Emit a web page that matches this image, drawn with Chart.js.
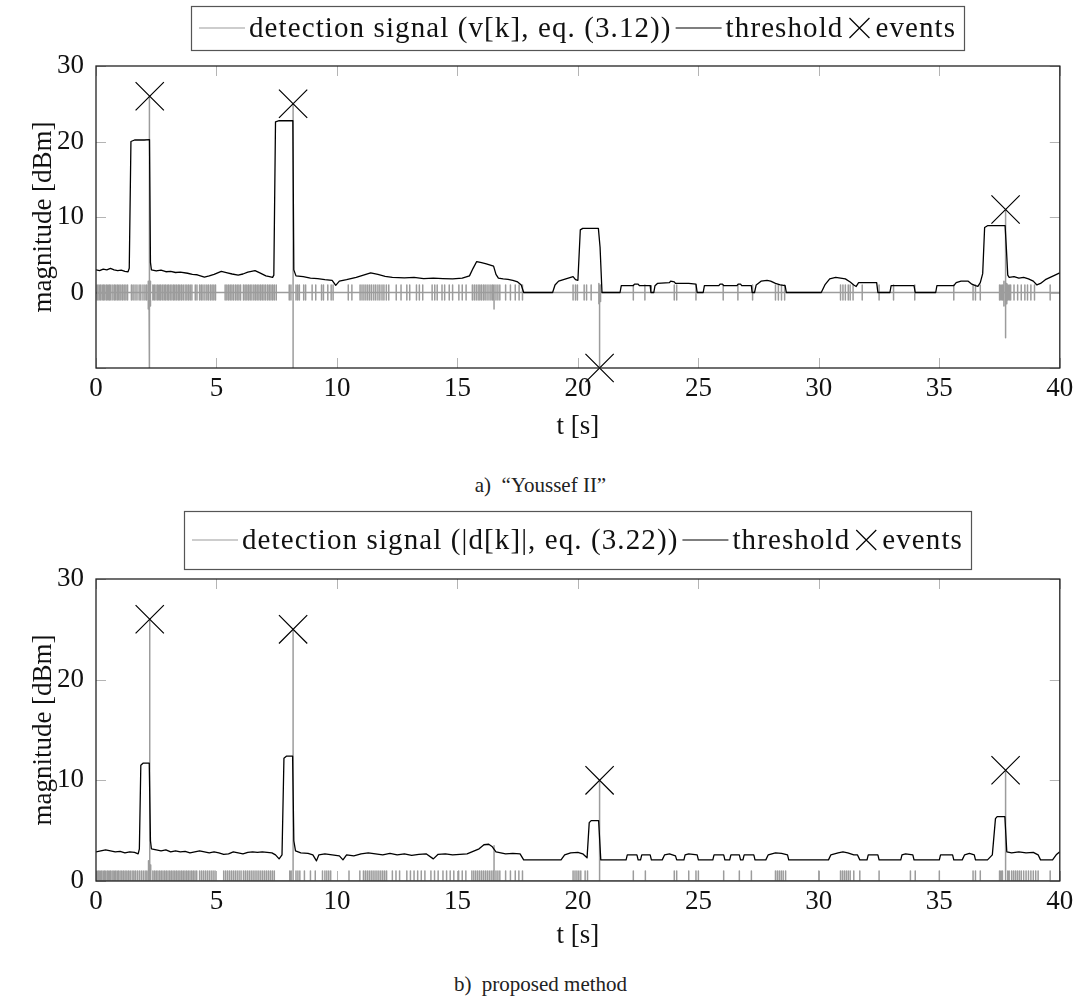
<!DOCTYPE html>
<html>
<head>
<meta charset="utf-8">
<script src="https://cdn.jsdelivr.net/npm/chart.js@4.4.1/dist/chart.umd.min.js"></script>
<style>
  html, body { margin: 0; padding: 0; background: #fff; }
  #page { position: relative; width: 1081px; height: 1005px; overflow: hidden; }
  .plot { position: absolute; left: 0; width: 1081px; }
  .caption { position: absolute; left: 0; width: 1081px; text-align: center;
             font-family: "Liberation Serif", serif; font-size: 21px; color: #222; }
</style>
</head>
<body>
<div id="page">
  <div class="plot" style="top:0; height:455px;"><canvas id="chartA"></canvas></div>
  <div class="caption" style="top:473px;">a)&nbsp; “Youssef II”</div>
  <div class="plot" style="top:500px; height:460px;"><canvas id="chartB"></canvas></div>
  <div class="caption" style="top:972px;">b)&nbsp; proposed method</div>
</div>
<script>
// x axis (time in s)
const T_MIN = 0, T_MAX = 40;
const xTicks = [0, 5, 10, 15, 20, 25, 30, 35, 40];
const yTicksA = [-10, 0, 10, 20, 30];
const yTicksB = [0, 10, 20, 30];

// legend labels
const labelsA = ['detection signal (v[k], eq. (3.12))', 'threshold', 'events'];
const labelsB = ['detection signal (|d[k]|, eq. (3.22))', 'threshold', 'events'];

// ---- a) "Youssef II" ----
// small noise spikes of v[k] (±1)
const noiseA = [0.05,0.12,0.18,0.25,0.31,0.37,0.44,0.5,0.56,0.62,0.7,0.77,0.83,0.9,0.96,1.03,1.1,1.17,1.24,1.31,
  1.47,1.54,1.62,1.7,1.79,1.86,1.95,2.03,2.1,
  2.36,2.42,2.49,2.56,2.62,2.68,2.75,2.82,2.88,2.95,3.01,3.08,3.15,3.22,3.28,3.35,3.42,3.48,3.55,3.62,3.7,3.77,3.84,3.91,3.98,
  4.12,4.19,4.3,4.37,4.44,4.52,4.6,4.67,4.75,4.82,4.89,4.96,
  5.36,5.43,5.5,5.57,5.64,5.71,5.79,5.86,5.93,6.0,
  6.12,6.19,6.26,6.33,6.4,6.47,6.55,6.62,6.69,6.76,6.83,6.9,6.97,7.04,7.12,7.19,7.26,7.33,7.4,7.48,
  8.02,8.09,8.3,8.37,8.44,8.62,8.7,8.97,9.12,9.36,9.44,9.62,9.76,9.84,
  10.47,10.62,10.96,11.04,11.12,11.2,11.28,11.36,11.44,11.53,11.61,11.7,11.78,11.87,11.95,12.05,12.15,
  12.46,12.66,12.9,13.02,13.3,13.42,13.56,13.95,14.06,14.16,14.36,14.47,14.66,14.8,15.06,15.2,15.36,
  15.62,15.7,15.78,15.86,15.93,16.0,16.08,16.15,16.23,16.31,16.39,16.46,16.6,16.68,16.76,
  17.0,17.2,17.4,17.56,17.7,
  19.8,19.9,19.98,20.26,20.36,20.55,
  22.3,22.78,24.0,24.1,24.9,26.03,26.64,27.25,28.2,28.32,28.45,28.58,
  30.9,31.0,31.1,31.22,31.3,31.42,31.8,32.5,33.1,33.98,35.6,36.4,36.5,36.7,
  37.5,37.56,37.62,37.84,37.9,37.96,
  38.1,38.25,38.4,38.55,38.66,38.8,38.95,39.6];
// large excursions of v[k]
const peaksA_t  = [2.17, 2.2, 2.23, 2.26, 8.18, 16.52, 20.87, 20.9, 20.94, 37.68, 37.75, 37.8];
const peaksA_hi = [1.5, 2.5, 26, 1.5, 25, 1, 1.2, 1, 1, 1.5, 11, 1.2];
const peaksA_lo = [-2.2, -3, -11, -1.8, -11, -2.2, -1.5, -11, -1.2, -1.8, -6, -1.5];
// threshold [t, dBm]
const thresholdA = [
  [0,3.0],[0.15,2.9],[0.3,3.1],[0.45,3.0],[0.6,3.2],[0.75,3.0],[0.9,2.9],[1.05,2.95],[1.2,2.8],[1.33,2.75],
  [1.38,3.2],[1.45,20.0],[1.6,20.2],[2.0,20.2],[2.22,20.25],[2.26,4.0],[2.3,3.0],[2.5,2.85],[2.7,2.95],[2.9,2.75],
  [3.1,2.8],[3.3,2.65],[3.5,2.7],[3.8,2.55],[4.0,2.4],[4.2,2.35],[4.5,2.05],[4.7,2.2],[4.9,2.4],[5.2,2.8],
  [5.45,2.6],[5.65,2.45],[5.9,2.3],[6.1,2.45],[6.3,2.7],[6.6,2.9],[6.8,2.6],[7.05,2.2],[7.2,2.1],[7.33,2.0],
  [7.38,2.3],[7.45,22.6],[7.6,22.75],[8.17,22.75],[8.21,3.0],[8.3,2.2],[8.6,2.1],[8.9,1.9],[9.2,1.85],[9.5,1.7],
  [9.8,1.6],[9.95,0.95],[10.1,1.5],[10.4,1.7],[10.8,2.0],[11.1,2.3],[11.4,2.6],[11.7,2.4],[12.0,2.15],[12.3,2.0],
  [12.8,1.95],[13.2,2.0],[13.6,1.85],[14.0,1.9],[14.4,1.85],[14.8,1.8],[15.2,1.9],[15.5,2.2],[15.65,3.2],[15.8,4.1],
  [16.0,3.95],[16.2,3.8],[16.4,3.6],[16.5,3.5],[16.6,2.4],[16.7,1.9],[16.9,1.8],[17.1,1.75],[17.3,1.6],[17.5,1.4],
  [17.65,1.0],[17.75,0],[18.95,0],[19.05,1.0],[19.2,1.5],[19.4,1.7],[19.6,1.9],[19.8,2.1],[19.9,1.7],[20.0,1.6],
  [20.1,8.3],[20.2,8.5],[20.85,8.5],[20.92,6.0],[21.0,0],[21.75,0],[21.8,0.9],[22.3,0.9],[22.35,1.1],[22.5,1.1],
  [22.55,0.9],[23.0,0.9],[23.03,0],[23.15,0],[23.2,0.9],[23.3,1.2],[23.8,1.3],[23.85,1.5],[24.0,1.4],[24.05,1.2],
  [24.6,1.2],[24.9,1.1],[24.95,0],[25.2,0],[25.25,0.9],[25.85,0.9],[25.9,1.1],[26.0,1.1],[26.05,0.9],[26.6,0.9],
  [26.65,1.1],[26.75,1.1],[26.8,0.9],[27.2,0.9],[27.23,0],[27.33,0],[27.4,1.0],[27.6,1.5],[27.85,1.6],[28.0,1.5],
  [28.2,1.2],[28.4,1.0],[28.6,0.9],[28.65,0],[30.1,0],[30.25,1.0],[30.45,1.8],[30.7,2.0],[30.9,1.9],[31.1,1.8],
  [31.3,1.4],[31.45,1.0],[31.55,0.8],[31.65,1.3],[32.4,1.3],[32.45,0],[32.95,0],[33.0,0.9],[33.95,0.9],[34.0,0],
  [34.85,0],[34.9,0.9],[35.6,0.9],[35.7,1.3],[35.9,1.5],[36.2,1.5],[36.35,1.1],[36.5,0.9],[36.6,0.8],[36.7,1.3],
  [36.8,2.5],[36.88,8.6],[37.0,8.85],[37.73,8.85],[37.78,6.0],[37.84,2.3],[37.9,2.0],[38.1,2.1],[38.3,1.9],[38.5,2.0],
  [38.7,1.8],[38.9,1.5],[39.05,1.0],[39.2,1.2],[39.4,1.7],[39.6,2.0],[39.8,2.3],[40.0,2.6]];
const eventsA_t = [2.23, 8.18, 20.9, 37.75];
const eventsA_v = [26, 25, -10, 11];

// ---- b) proposed method ----
// small noise spikes of |d[k]| (0..1)
const noiseB = [0.04,0.1,0.16,0.22,0.29,0.35,0.41,0.48,0.54,0.6,0.67,0.74,0.8,0.87,0.93,1.0,1.07,1.14,1.21,1.28,1.35,1.42,1.5,1.57,1.64,1.72,1.8,1.88,1.96,2.04,2.11,
  2.36,2.43,2.5,2.57,2.64,2.71,2.78,2.85,2.92,2.99,3.06,3.13,3.2,3.27,3.34,3.41,3.48,3.55,3.62,3.69,3.76,3.83,3.9,3.97,4.04,4.11,4.18,
  4.3,4.38,4.46,4.54,4.62,4.7,4.78,4.86,4.94,
  5.3,5.38,5.46,5.54,5.62,5.7,5.78,5.86,5.94,6.02,
  6.12,6.2,6.28,6.36,6.44,6.52,6.6,6.68,6.76,6.84,6.92,7.0,7.08,7.16,7.24,7.32,7.4,
  8.04,8.1,8.3,8.38,8.46,8.65,8.9,9.1,9.4,9.5,9.58,9.66,9.74,
  10.5,10.95,11.1,11.18,11.26,11.34,11.42,11.5,11.58,11.66,11.74,11.82,11.9,11.98,12.06,
  12.3,12.45,12.6,12.9,13.05,13.2,13.35,13.5,13.65,13.9,14.05,14.2,14.4,14.55,14.7,14.85,15.05,15.2,15.35,
  15.6,15.68,15.76,15.84,15.92,16.0,16.08,16.16,16.24,16.32,16.4,16.48,16.6,16.68,16.76,
  17.0,17.2,17.4,17.55,17.7,
  19.8,19.88,19.96,20.04,20.12,20.3,20.4,
  22.3,22.8,24.0,24.1,24.6,24.9,25.0,26.05,26.7,27.2,
  28.2,28.28,28.36,28.44,28.52,28.62,30.0,
  30.9,30.98,31.06,31.14,31.22,31.3,31.45,31.7,32.5,33.8,34.0,35.0,36.4,36.5,36.7,
  37.5,37.56,37.62,37.84,37.9,
  38.0,38.08,38.16,38.24,38.32,38.4,38.5,38.6,38.7,38.8,38.9,39.0,39.1,39.6];
const peaksB_t  = [2.18, 2.23, 2.27, 8.18, 16.52, 20.9, 37.75];
const peaksB_hi = [2.0, 26, 1.6, 25, 3.5, 10, 11];
const thresholdB = [
  [0,2.9],[0.2,3.0],[0.4,3.1],[0.6,3.0],[0.8,2.9],[1.0,2.95],[1.2,2.8],[1.4,2.9],[1.6,2.85],[1.75,2.7],
  [1.8,3.2],[1.86,11.5],[1.95,11.7],[2.21,11.7],[2.26,4.0],[2.3,3.2],[2.5,3.1],[2.7,3.0],[2.9,3.1],[3.1,2.9],
  [3.3,3.0],[3.5,2.9],[3.7,2.95],[3.9,2.8],[4.1,2.9],[4.3,3.0],[4.5,2.9],[4.7,2.8],[4.9,2.9],[5.1,2.8],
  [5.3,2.65],[5.5,2.7],[5.7,2.9],[5.9,2.8],[6.1,2.7],[6.3,2.85],[6.5,2.9],[6.7,2.85],[6.9,2.9],[7.1,2.85],
  [7.3,2.8],[7.45,2.6],[7.6,2.2],[7.72,2.6],[7.8,12.2],[7.9,12.4],[8.16,12.4],[8.21,4.0],[8.28,3.0],[8.5,2.8],
  [8.8,2.75],[9.0,2.6],[9.15,2.0],[9.25,2.6],[9.5,2.7],[9.8,2.6],[10.1,2.5],[10.25,2.1],[10.4,2.6],[10.7,2.5],
  [11.0,2.7],[11.3,2.8],[11.6,2.7],[11.9,2.6],[12.2,2.75],[12.5,2.6],[12.8,2.7],[13.1,2.55],[13.4,2.65],[13.7,2.7],
  [14.0,2.2],[14.2,2.65],[14.5,2.7],[14.8,2.6],[15.1,2.65],[15.4,2.7],[15.7,3.0],[15.9,3.2],[16.1,3.6],[16.3,3.65],
  [16.45,3.4],[16.6,2.9],[16.8,2.8],[17.0,2.7],[17.3,2.75],[17.6,2.7],[17.75,2.1],[19.3,2.1],[19.45,2.6],[19.7,2.8],
  [20.0,2.85],[20.2,2.7],[20.38,2.3],[20.47,5.8],[20.55,6.0],[20.86,6.0],[20.95,2.1],[22.0,2.1],[22.05,2.6],[22.45,2.6],
  [22.5,2.1],[22.6,2.1],[22.65,2.6],[23.0,2.6],[23.05,2.1],[23.5,2.1],[23.6,2.6],[23.8,2.7],[24.05,2.5],[24.1,2.1],
  [24.4,2.1],[24.45,2.6],[24.6,2.7],[24.95,2.6],[25.0,2.1],[25.6,2.1],[25.65,2.6],[26.05,2.6],[26.1,2.1],[26.3,2.1],
  [26.35,2.6],[26.7,2.6],[26.75,2.1],[26.85,2.1],[26.9,2.6],[27.3,2.6],[27.35,2.1],[27.8,2.1],[27.9,2.6],[28.2,2.8],
  [28.45,2.75],[28.7,2.6],[28.75,2.1],[30.4,2.1],[30.5,2.6],[30.8,2.8],[31.0,2.9],[31.2,2.8],[31.45,2.6],[31.6,2.6],
  [31.7,2.1],[32.0,2.1],[32.05,2.6],[32.45,2.6],[32.5,2.1],[33.4,2.1],[33.45,2.6],[33.6,2.7],[33.9,2.6],[33.95,2.1],
  [35.0,2.1],[35.05,2.6],[35.55,2.6],[35.6,2.1],[35.95,2.1],[36.05,2.6],[36.25,2.75],[36.45,2.6],[36.5,2.1],[37.0,2.1],
  [37.2,2.6],[37.33,6.2],[37.4,6.4],[37.72,6.4],[37.8,2.9],[38.0,2.8],[38.3,2.9],[38.6,2.8],[38.9,2.85],[39.1,2.6],
  [39.2,2.1],[39.7,2.1],[39.85,2.6],[40,2.9]];
const eventsB_t = [2.23, 8.18, 20.9, 37.75];
const eventsB_v = [26, 25, 10, 11];

const FONT = '"Liberation Serif", "Times New Roman", serif';
const SIGNAL_GRAY = '#9c9c9c';

// turn spike lists into a polyline that sits at 0 between spikes
function spikeTrain(noise, hi, lo, peakT, peakHi, peakLo) {
  const ev = noise.map(t => [t, hi, lo]);
  peakT.forEach((t, i) => ev.push([t, peakHi[i], peakLo ? peakLo[i] : 0]));
  ev.sort((a, b) => a[0] - b[0]);
  const pts = [{ x: T_MIN, y: 0 }];
  ev.forEach(([t, h, l]) => {
    pts.push({ x: t, y: 0 }, { x: t, y: h }, { x: t, y: l }, { x: t, y: 0 });
  });
  pts.push({ x: T_MAX, y: 0 });
  return pts;
}

// boxed legend drawn above the plot, like the pgfplots one
const boxedLegend = {
  id: 'boxedLegend',
  afterDraw(chart, args, opts) {
    const ctx = chart.ctx;
    const sets = chart.data.datasets;
    ctx.save();
    ctx.font = opts.fontSize + 'px ' + FONT;
    if ('letterSpacing' in ctx) ctx.letterSpacing = opts.letterSpacing + 'px';
    const sampleW = d => d.showLine === false ? 24 : 46;
    const widths = sets.map(d => sampleW(d) + 4 + ctx.measureText(d.label).width);
    const total = widths.reduce((a, b) => a + b, 0) + opts.spacing * (sets.length - 1) + opts.pad * 2;
    const cx = (chart.chartArea.left + chart.chartArea.right) / 2;
    let x = Math.round(cx - total / 2);
    const cy = opts.top + opts.height / 2;
    ctx.strokeStyle = '#555';
    ctx.lineWidth = 1.2;
    ctx.strokeRect(x + 0.5, opts.top + 0.5, Math.round(total), opts.height);
    x += opts.pad;
    sets.forEach((d, i) => {
      const w = sampleW(d);
      ctx.strokeStyle = d.borderColor;
      ctx.lineWidth = d.showLine === false ? d.borderWidth : 1.2;
      ctx.beginPath();
      if (d.showLine === false) {
        const r = 10, mx = x + w / 2;
        ctx.moveTo(mx - r, cy - r); ctx.lineTo(mx + r, cy + r);
        ctx.moveTo(mx + r, cy - r); ctx.lineTo(mx - r, cy + r);
      } else {
        ctx.moveTo(x, cy); ctx.lineTo(x + w, cy);
      }
      ctx.stroke();
      ctx.fillStyle = '#111';
      ctx.textBaseline = 'middle';
      ctx.textAlign = 'left';
      ctx.fillText(d.label, x + w + 4, cy + 1);
      x += widths[i] + opts.spacing;
    });
    ctx.restore();
  }
};

// frame around the plot and inward tick marks on all four sides
const frameTicks = {
  id: 'frameTicks',
  beforeDatasetsDraw(chart) {
    const { ctx, chartArea: a, scales } = chart;
    ctx.save();
    ctx.strokeStyle = '#b4b4b4';
    ctx.lineWidth = 1;
    ctx.beginPath();
    scales.x.ticks.forEach(t => {
      const px = Math.round(scales.x.getPixelForValue(t.value)) + 0.5;
      ctx.moveTo(px, a.bottom); ctx.lineTo(px, a.bottom - 10);
      ctx.moveTo(px, a.top); ctx.lineTo(px, a.top + 10);
    });
    scales.y.ticks.forEach(t => {
      const py = Math.round(scales.y.getPixelForValue(t.value)) + 0.5;
      ctx.moveTo(a.left, py); ctx.lineTo(a.left + 10, py);
      ctx.moveTo(a.right, py); ctx.lineTo(a.right - 10, py);
    });
    ctx.stroke();
    ctx.restore();
  },
  afterDatasetsDraw(chart) {
    const { ctx, chartArea: a } = chart;
    ctx.save();
    ctx.strokeStyle = '#222';
    ctx.lineWidth = 1.3;
    ctx.strokeRect(a.left, a.top, a.right - a.left, a.bottom - a.top);
    ctx.restore();
  }
};

function makeChart(id, cfg) {
  const tickFont = { family: FONT, size: 27 };
  return new Chart(document.getElementById(id), {
    type: 'line',
    data: {
      datasets: [
        { label: cfg.labels[0], data: cfg.signal, borderColor: SIGNAL_GRAY, borderWidth: 1.5,
          pointRadius: 0, borderJoinStyle: 'round', order: 2 },
        { label: cfg.labels[1], data: cfg.threshold.map(([x, y]) => ({ x, y })), borderColor: '#000',
          borderWidth: 1.3, pointRadius: 0, borderJoinStyle: 'round', order: 1 },
        { label: cfg.labels[2], data: cfg.eventsT.map((x, i) => ({ x, y: cfg.eventsV[i] })), showLine: false,
          pointStyle: 'crossRot', pointRadius: 20, borderColor: '#000', borderWidth: 1.2, clip: false, order: 0 }
      ]
    },
    options: {
      responsive: true,
      maintainAspectRatio: false,
      animation: false,
      events: [],
      layout: { padding: { top: cfg.padTop, right: 17, left: 0, bottom: 0 } },
      plugins: {
        legend: { display: false },
        tooltip: { enabled: false },
        boxedLegend: cfg.legend
      },
      scales: {
        x: {
          type: 'linear', min: T_MIN, max: T_MAX,
          afterBuildTicks: s => { s.ticks = xTicks.map(v => ({ value: v })); },
          afterFit: s => { s.height = cfg.xAxisH; },
          grid: { display: false, drawTicks: false },
          border: { display: false },
          ticks: { font: tickFont, color: '#111', padding: 5, maxRotation: 0 },
          title: { display: true, text: 't [s]', font: tickFont, color: '#111',
                   padding: { top: 0, bottom: cfg.xTitlePad } }
        },
        y: {
          type: 'linear', min: cfg.yTicks[0], max: cfg.yTicks[cfg.yTicks.length - 1],
          afterBuildTicks: s => { s.ticks = cfg.yTicks.map(v => ({ value: v })); },
          afterFit: s => { s.width = 96; },
          grid: { display: false, drawTicks: false },
          border: { display: false },
          ticks: { font: tickFont, color: '#111', padding: 12,
                   callback: v => (v < 0 ? '' : v) },
          title: { display: true, text: 'magnitude [dBm]', font: tickFont, color: '#111',
                   padding: { top: 28, bottom: 0 } }
        }
      }
    },
    plugins: [frameTicks, boxedLegend]
  });
}

makeChart('chartA', {
  labels: labelsA,
  signal: spikeTrain(noiseA, 1, -1, peaksA_t, peaksA_hi, peaksA_lo),
  threshold: thresholdA,
  eventsT: eventsA_t, eventsV: eventsA_v,
  yTicks: yTicksA,
  padTop: 66, xAxisH: 87, xTitlePad: 12,
  legend: { top: 6, height: 44, pad: 8, spacing: 4, fontSize: 29, letterSpacing: 1.1 }
});

makeChart('chartB', {
  labels: labelsB,
  signal: spikeTrain(noiseB, 1, 0, peaksB_t, peaksB_hi, null),
  threshold: thresholdB,
  eventsT: eventsB_t, eventsV: eventsB_v,
  yTicks: yTicksB,
  padTop: 79, xAxisH: 79, xTitlePad: 8,
  legend: { top: 11, height: 58, pad: 8, spacing: 4, fontSize: 29, letterSpacing: 1.1 }
});
</script>
</body>
</html>
